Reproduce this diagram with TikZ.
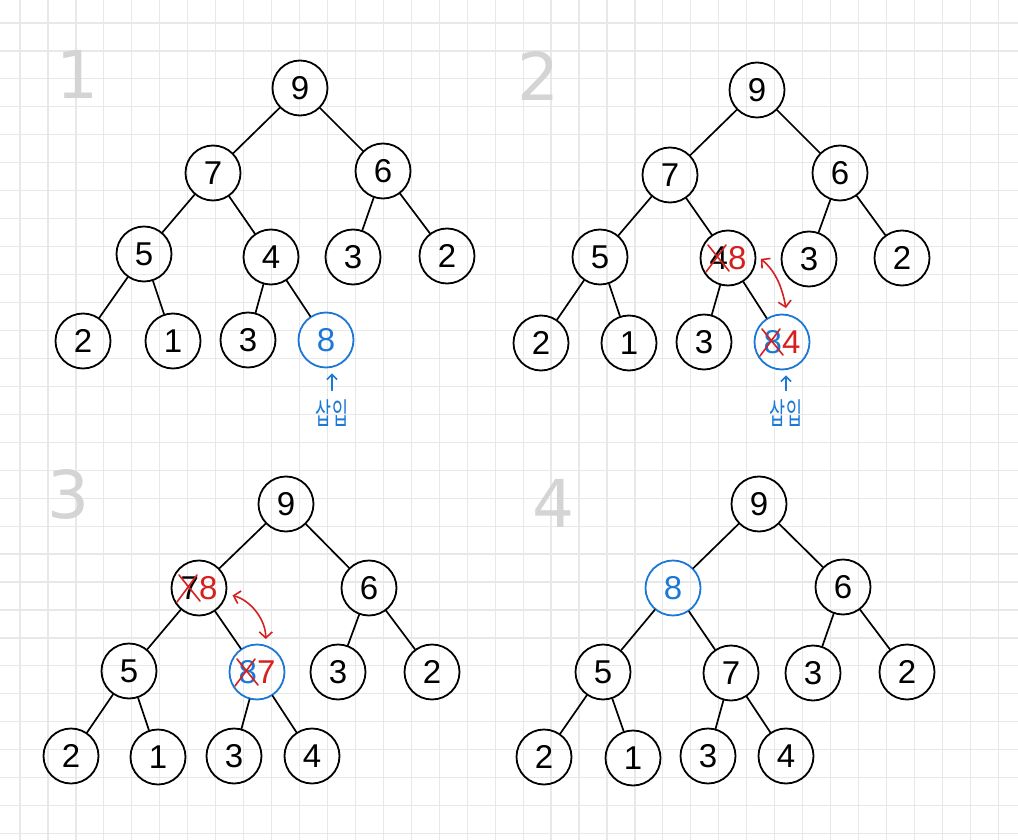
\documentclass[tikz,border=0pt]{standalone}
\usepackage{fontspec}
\setmainfont{Liberation Sans}
\newfontfamily\krfont{Noto Sans CJK KR}
\newfontfamily\stepfont{DejaVu Sans}
\usepackage{tikz}
\usetikzlibrary{arrows.meta}

\definecolor{inkblue}{RGB}{28,120,214}
\definecolor{inkred}{RGB}{214,32,32}
\definecolor{stepgray}{RGB}{212,212,212}
\definecolor{gridgray}{RGB}{232,232,232}

\begin{document}
\begin{tikzpicture}[
						x=1pt, y=-1pt,
						line cap=round,
						line join=round,
						key/.style={circle, draw, line width=1.8pt, minimum size=55pt, inner sep=0pt,
							font=\fontsize{33}{33}\selectfont},
						newkey/.style={key, draw=inkblue, text=inkblue},
						edge/.style={line width=1.7pt},
						strike/.style={draw=inkred, line width=1.6pt},
						swaparrow/.style={draw=inkred, line width=1.6pt, shorten <=6pt, shorten >=6pt,
							{Straight Barb[length=6pt,width=13pt]}-{Straight Barb[length=6pt,width=13pt]}},
						insarrow/.style={draw=inkblue, line width=1.6pt, shorten <=8pt, shorten >=5pt,
							-{Straight Barb[length=5pt,width=10pt]}},
						instext/.style={text=inkblue, inner sep=1pt, font=\krfont\fontsize{30}{30}\selectfont},
						steplabel/.style={text=stepgray, font=\stepfont\fontsize{66}{66}\selectfont}
						]
						
						% Paper and grid
						\useasboundingbox (0,0) rectangle (1018,840);
						\fill[white] (0,0) rectangle (1018,840);
						\foreach \k in {0,...,35}
						\draw[gridgray, line width=1.2pt] (20+27.95*\k,0) -- (20+27.95*\k,840);
						\foreach \k in {0,...,29}
						\draw[gridgray, line width=1.2pt] (0,23+27.95*\k) -- (1018,23+27.95*\k);
						
						% Step numbers
						\node[steplabel] (s1) at (77,74) {1};
						\node[steplabel] (s2) at (538,76) {2};
						\node[steplabel] (s3) at (68,494) {3};
						\node[steplabel] (s4) at (553,503) {4};
						
						% Heap 1: 8 appended at the end
						\foreach \i/\x/\y/\t/\s in {1/300/88/9/key, 2/213/173/7/key, 3/383/171/6/key,
							4/144/254/5/key, 5/271/257/4/key, 6/353/257/3/key, 7/447/256/2/key,
							8/83/341/2/key, 9/173/341/1/key, 10/248/340/3/key, 11/326/340/8/newkey}
						\node[\s] (a\i) at (\x,\y) {\t};
						
						% Heap 2: 8 swapped with 4
						\foreach \i/\x/\y/\t/\s in {1/757/90/9/key, 2/670/175/7/key, 3/840/173/6/key,
							4/600/257/5/key, 5/728/258/{4\textcolor{inkred}{8}}/key, 6/809/259/3/key, 7/902/258/2/key,
							8/541/343/2/key, 9/629/343/1/key, 10/704/342/3/key, 11/782/342/{8\textcolor{inkred}{4}}/newkey}
						\node[\s] (b\i) at (\x,\y) {\t};
						
						% Heap 3: 8 swapped with 7
						\foreach \i/\x/\y/\t/\s in {1/286/504/9/key, 2/199/588/{7\textcolor{inkred}{8}}/key, 3/369/588/6/key,
							4/129/671/5/key, 5/257/672/{8\textcolor{inkred}{7}}/newkey, 6/338/672/3/key, 7/432/672/2/key,
							8/71/756/2/key, 9/158/757/1/key, 10/234/756/3/key, 11/312/756/4/key}
						\node[\s] (c\i) at (\x,\y) {\t};
						
						% Heap 4: result
						\foreach \i/\x/\y/\t/\s in {1/759/504/9/key, 2/673/588/8/newkey, 3/843/587/6/key,
							4/603/672/5/key, 5/731/673/7/key, 6/813/673/3/key, 7/907/672/2/key,
							8/544/757/2/key, 9/633/758/1/key, 10/708/756/3/key, 11/786/756/4/key}
						\node[\s] (d\i) at (\x,\y) {\t};
						
						% Tree edges
						\foreach \p in {a,b,c,d}
						\foreach \u/\v in {1/2,1/3,2/4,2/5,3/6,3/7,4/8,4/9,5/10,5/11}
						\draw[edge] (\p\u) -- (\p\v);
						
						% Crossed-out old keys
						\foreach \n in {b5,b11,c2,c5}
						\draw[strike] ([shift={(-20,-13)}]\n.center) -- ([shift={(1,13)}]\n.center)
						([shift={(-2,-13)}]\n.center) -- ([shift={(-22,14)}]\n.center);
						
						% Swaps
						\draw[swaparrow] (b5.6) to[out=-40,in=100] (b11.80);
						\draw[swaparrow] (c2.-12) to[out=-15,in=90] (c5.72);
						
						% Insert labels
						\node[instext] (ins1) at (332,413) {\scalebox{0.58}[1]{삽입}};
						\draw[insarrow] (ins1.north) -- (ins1.north |- a11.south);
						\node[instext] (ins2) at (786,413) {\scalebox{0.58}[1]{삽입}};
						\draw[insarrow] (ins2.north) -- (ins2.north |- b11.south);
						
					\end{tikzpicture}
\end{document}
